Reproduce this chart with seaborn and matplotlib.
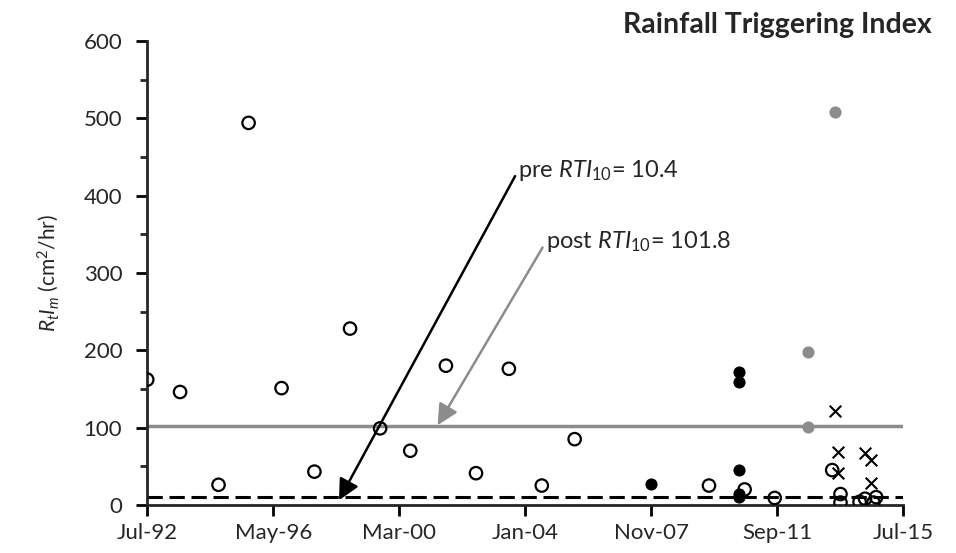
#importing packages
import matplotlib
matplotlib.use("Agg")
import matplotlib.pyplot as plt
import matplotlib.dates as mdates
from matplotlib.ticker import MultipleLocator
import numpy as np
import pandas as pd
import seaborn as sns

#data
openDates = ["1992-07", "1993-07", "1994-09", "1995-08", "1996-08", "1997-08", "1998-09",
             "1999-08", "2000-07", "2001-08", "2002-07", "2003-07", "2004-07", "2005-07",
             "2009-08", "2010-09", "2011-08", "2013-05", "2013-08", "2013-08", "2014-03",
             "2014-05", "2014-08", "2014-09"]
openVals = [162, 146, 26, 494, 151, 43, 228, 99, 70, 180, 41, 176, 25, 85,
            25, 20, 9, 45, 14, 3, 4, 8, 3, 10]
blackDates = ["2007-11", "2010-07", "2010-07", "2010-07", "2010-07", "2010-07"]
blackVals = [27, 172, 159, 45, 14, 10]
grayDates = ["2012-08", "2012-08", "2013-06"]
grayVals = [198, 101, 508]
crossDates = ["2013-06", "2013-07", "2013-07", "2014-05", "2014-07", "2014-07"]
crossVals = [122, 69, 41, 67, 58, 28]
preRTI = 10.4
postRTI = 101.8
tickDates = ["1992-07", "1996-05", "2000-03", "2004-01", "2007-11", "2011-09", "2015-07"]

sns.set_style("ticks")
plt.rcParams['font.family'] = ['Lato', 'DejaVu Sans']
plt.rcParams['mathtext.fontset'] = 'custom'
plt.rcParams['mathtext.rm'] = 'Lato'
plt.rcParams['mathtext.it'] = 'Lato:italic'

def frame(dates, vals):
    return pd.DataFrame({"date": pd.to_datetime(dates), "val": vals})

fig = plt.figure(figsize=(9.56, 5.53), dpi=100)
ax = fig.add_axes([0.154, 0.087, 0.791, 0.839])

x0 = pd.Timestamp(tickDates[0])
x1 = pd.Timestamp(tickDates[-1])
#threshold lines
ax.plot([x0, x1], [postRTI, postRTI], color="#8c8c8c", lw=2.5, zorder=1)
ax.plot([x0, x1], [preRTI, preRTI], color="black", lw=2.2, ls=(0, (5, 2.2)), zorder=1)

#points
sns.scatterplot(data=frame(openDates, openVals), x="date", y="val", ax=ax, marker="o",
                s=80, facecolors="none", edgecolor="black", linewidth=1.6, zorder=3)
sns.scatterplot(data=frame(blackDates, blackVals), x="date", y="val", ax=ax, marker="o",
                s=65, color="black", edgecolor="black", zorder=3)
sns.scatterplot(data=frame(grayDates, grayVals), x="date", y="val", ax=ax, marker="o",
                s=65, color="#8c8c8c", edgecolor="#8c8c8c", zorder=3)
sns.scatterplot(data=frame(crossDates, crossVals), x="date", y="val", ax=ax, marker="x",
                s=70, color="black", linewidth=1.5, zorder=3)

#annotations
ax.annotate(r"pre $RTI_{10}$= 10.4", xy=(pd.Timestamp("1998-05-01"), 6),
            xytext=(pd.Timestamp("2003-10-15"), 433), fontsize=17, ha="left", va="center",
            color="#262626",
            arrowprops=dict(arrowstyle="-|>,head_length=0.9,head_width=0.45", color="black",
                            lw=1.8, shrinkA=0, shrinkB=0, relpos=(0, 0.5), mutation_scale=14))
ax.annotate(r"post $RTI_{10}$= 101.8", xy=(pd.Timestamp("2001-05-01"), 103),
            xytext=(pd.Timestamp("2004-08-15"), 340), fontsize=17, ha="left", va="center",
            color="#262626",
            arrowprops=dict(arrowstyle="-|>,head_length=0.9,head_width=0.45", color="#8c8c8c",
                            lw=1.8, shrinkA=0, shrinkB=0, relpos=(0, 0.5), mutation_scale=14))

ax.set_xlim(x0, x1)
ax.set_ylim(0, 600)
ax.set_xticks(pd.to_datetime(tickDates))
ax.xaxis.set_major_formatter(mdates.DateFormatter("%b-%y"))
ax.yaxis.set_major_locator(MultipleLocator(100))
ax.yaxis.set_minor_locator(MultipleLocator(50))
ax.tick_params(axis="both", which="major", labelsize=16, length=8, width=2, color="black",
               labelcolor="#262626")
ax.tick_params(axis="y", which="major", pad=10)
ax.tick_params(axis="x", which="major", pad=5)
ax.tick_params(axis="y", which="minor", length=5, width=2)
sns.despine(ax=ax)
ax.spines["left"].set_linewidth(2)
ax.spines["bottom"].set_linewidth(2)
ax.set_xlabel("")
ax.set_ylabel(r"$R_tI_m$ (cm$^2$/hr)", fontsize=15, labelpad=16, color="#262626")
fig.text(0.975, 0.955, "Rainfall Triggering Index", fontsize=20.5, fontweight="bold",
         ha="right", va="center")

plt.savefig("out.png", dpi=100)
plt.close()
